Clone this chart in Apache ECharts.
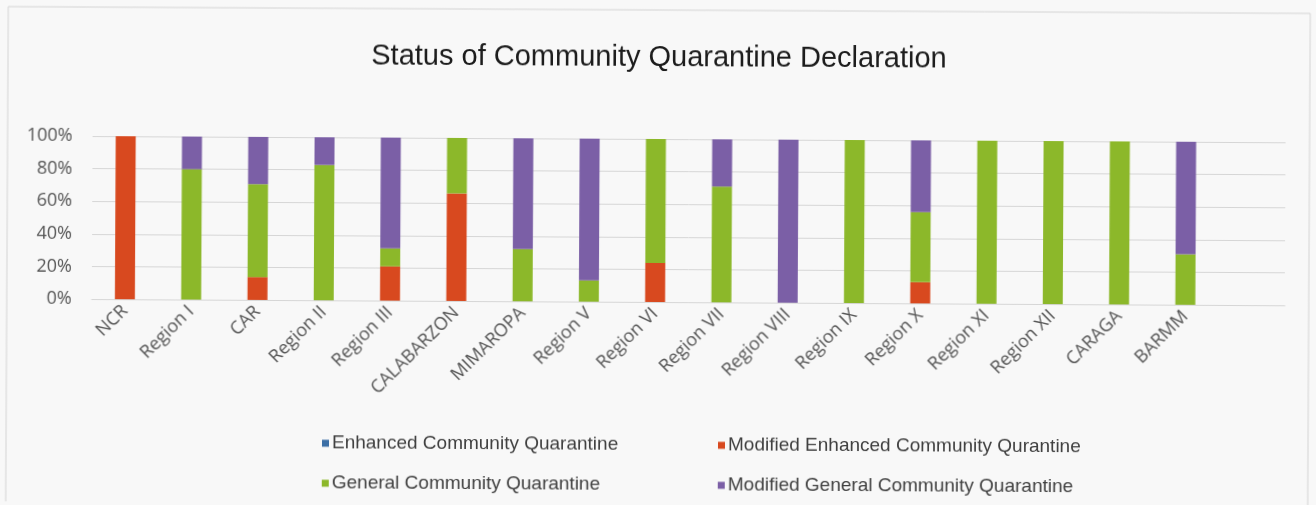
<!DOCTYPE html>
<html>
    <head>
        <meta charset="UTF-8">
        <script src="https://cdn.jsdelivr.net/npm/echarts@6/dist/echarts.min.js"></script>
        <style>
            html, body { margin: 0; padding: 0; background: #f8f8f8; }
            /* the scan is tilted a little */
            #main { width: 1316px; height: 505px; transform: rotate(0.3deg); }
        </style>
    </head>

    <body>
        <div id="main"></div>
    </body>

    <script>
        var regions = ['NCR', 'Region I', 'CAR', 'Region II', 'Region III', 'CALABARZON', 'MIMAROPA', 'Region V',
            'Region VI', 'Region VII', 'Region VIII', 'Region IX', 'Region X', 'Region XI', 'Region XII', 'CARAGA', 'BARMM', ''];
        var ecq  = [0, 0, 0, 0, 0, 0, 0, 0, 0, 0, 0, 0, 0, 0, 0, 0, 0];
        var mecq = [100, 0, 14, 0, 21, 66, 0, 0, 24, 0, 0, 0, 13, 0, 0, 0, 0];
        var gcq  = [0, 80, 57, 83, 11, 34, 32, 13, 76, 71, 0, 100, 43, 100, 100, 100, 31];
        var mgcq = [0, 20, 29, 17, 68, 0, 68, 87, 0, 29, 100, 0, 44, 0, 0, 0, 69];
        var yTicks = [0, 20, 40, 60, 80, 100];

        var names = ['Enhanced Community Quarantine', 'Modified Enhanced Community Qurantine',
            'General Community Quarantine', 'Modified General Community Quarantine'];
        var colors = ['#3c6fa6', '#d8491f', '#8cb82a', '#7b5fa6'];
        var narrow = '"Liberation Sans Narrow", "Arial Narrow", "Liberation Sans", sans-serif';

        function bar(i, data) {
            return {
                name: names[i],
                type: 'bar',
                stack: 'all',
                barWidth: 20,
                itemStyle: { color: colors[i] },
                data: data
            };
        }

        var legendText = { fontFamily: narrow, fontSize: 19, lineHeight: 20, color: '#404040', padding: [0, 0, 0, -2] };

        var myChart = echarts.init(document.getElementById('main'));
        var option = {
            animation: false,
            title: {
                text: 'Status of Community Quarantine Declaration',
                left: 'center',
                top: 38,
                textStyle: { fontFamily: narrow, fontSize: 29, fontWeight: 'normal', color: '#1c1c1c' }
            },
            graphic: [{
                type: 'rect',
                shape: { x: 7, y: 10, width: 1302, height: 500 },
                style: { fill: 'none', stroke: '#d4d4d4', lineWidth: 1 },
                silent: true
            }],
            legend: [{
                data: [names[0], names[2]],
                orient: 'vertical',
                left: 318,
                top: 430,
                itemWidth: 7,
                itemHeight: 7,
                itemGap: 20,
                icon: 'rect',
                textStyle: legendText
            }, {
                data: [names[1], names[3]],
                orient: 'vertical',
                left: 714,
                top: 430,
                itemWidth: 7,
                itemHeight: 7,
                itemGap: 20,
                icon: 'rect',
                textStyle: legendText
            }],
            grid: { left: 92, right: 31, top: 139, bottom: 203, containLabel: false },
            xAxis: {
                type: 'category',
                data: regions,
                axisLine: { lineStyle: { color: '#d6d6d6' } },
                axisTick: { show: false },
                axisLabel: {
                    rotate: 45,
                    interval: 0,
                    margin: 9,
                    fontFamily: '"Open Sans", sans-serif',
                    fontSize: 18,
                    color: '#555555'
                }
            },
            yAxis: {
                type: 'value',
                min: yTicks[0],
                max: yTicks[yTicks.length - 1],
                interval: 20,
                axisLine: { show: false },
                axisTick: { show: false },
                splitLine: { lineStyle: { color: '#d6d6d6' } },
                axisLabel: {
                    formatter: '{value}%',
                    margin: 20,
                    fontFamily: '"Open Sans", sans-serif',
                    fontSize: 18,
                    color: '#555555'
                }
            },
            series: [bar(0, ecq), bar(1, mecq), bar(2, gcq), bar(3, mgcq)]
        };
        myChart.setOption(option, true);
    </script>
</html>
